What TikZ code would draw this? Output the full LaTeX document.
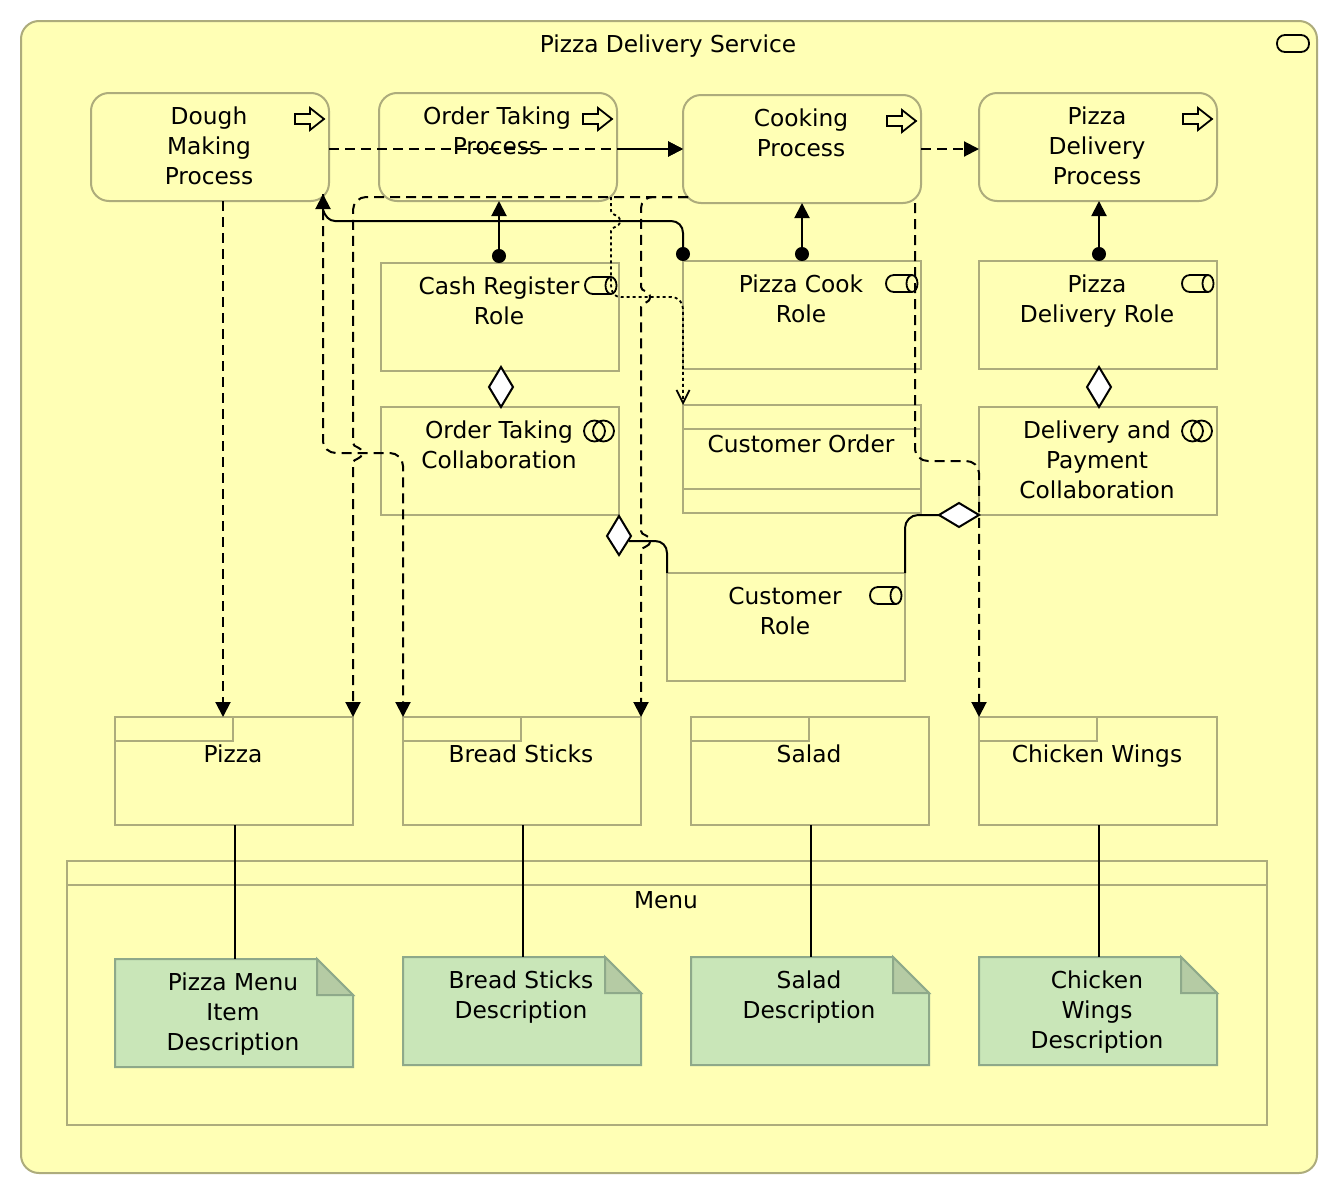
\documentclass[tikz,border=0pt]{standalone}
\usepackage{fontspec}
\setmainfont{DejaVu Sans}
\usetikzlibrary{arrows.meta,calc}
\definecolor{ylw}{HTML}{FFFFB5}
\definecolor{edge}{HTML}{ADAC7C}
\definecolor{grn}{HTML}{C9E6B8}
\definecolor{grnedge}{HTML}{8EA98A}
\definecolor{fold}{HTML}{B5CBA4}
\tikzset{
  elem/.style={inner sep=0pt,outer sep=0pt,anchor=north west,line width=2pt},
  boxed/.style={elem,draw=edge,fill=ylw},
  roundbox/.style={boxed,rounded corners=18pt},
  notebox/.style={elem},
  conn/.style={line width=2pt,black},
  dashline/.style={conn,dash pattern=on 10pt off 6pt},
  dotline/.style={conn,line width=1.8pt,dash pattern=on 3pt off 3pt},
  solidtip/.style={-{Triangle[length=15pt,width=15pt]}},
  dottip/.style={{Circle[length=14pt,width=14pt]}-{Triangle[length=15pt,width=15pt]}},
  opentip/.style={-{Straight Barb[length=13pt,width=13pt,line width=1.8pt]}},
  icon/.style={line width=1.8pt,black},
  dia/.style={line width=2pt,black,fill=white,line join=miter},
}
% \elm{name}{style}{x0}{y0}{x1}{y1}{first baseline offset}{text}
\newcommand\elm[8]{%
  \pgfmathsetlengthmacro\elmw{#5-#3}\pgfmathsetlengthmacro\elmh{#6-#4}%
  \node[#2] (#1) at (#3,#4) {\parbox[c][\elmh][t]{\elmw}{\centering\rightskip=2pt plus 1fil\fontsize{23.3}{30}\selectfont\rule{0pt}{#7pt}#8}};}
\newcommand\noteelm[8]{%
  \pgfmathsetmacro\xa{#3}\pgfmathsetmacro\ya{#4}\pgfmathsetmacro\xb{#5}\pgfmathsetmacro\yb{#6}%
  \draw[line width=2pt,draw=grnedge,fill=grn] (\xa,\ya) -- (\xb-36,\ya) -- (\xb,\ya+36) -- (\xb,\yb) -- (\xa,\yb) -- cycle;
  \draw[line width=2pt,draw=grnedge,fill=fold] (\xb-36,\ya) -- (\xb-36,\ya+36) -- (\xb,\ya+36) -- cycle;
  \elm{#1}{#2}{#3}{#4}{#5}{#6}{#7}{#8}}
\newcommand\procicon[2]{\draw[icon,shift={(#1,#2)}] (0,-5) -- (15,-5) -- (15,-11) -- (29,0) -- (15,11) -- (15,5) -- (0,5) -- cycle;}
\newcommand\roleicon[2]{\draw[icon,shift={(#1,#2)}] (26,0) -- (8,0) .. controls (3,0) and (0,4) .. (0,8.5) .. controls (0,13) and (3,17) .. (8,17) -- (26,17) (26,8.5) ellipse [x radius=5.5pt,y radius=8.5pt];}
\newcommand\collabicon[2]{\draw[icon] (#1+10.5,#2) circle [radius=10.5pt] (#1+19.5,#2) circle [radius=10.5pt];}
\newcommand\tabline[1]{\draw[line width=2pt,draw=edge] ([yshift=-24pt]#1.north west) -| ([xshift=118pt]#1.north west);}
\newcommand\hop[2]{-- (#1,#2-10) .. controls (#1,#2-5) and (#1+9,#2-7) .. (#1+9,#2) .. controls (#1+9,#2+7) and (#1,#2+5) .. (#1,#2+10)}
\begin{document}
\begin{tikzpicture}[x=1pt,y=-1pt]
\useasboundingbox (0,0) rectangle (1338,1194);
\fill[white] (0,0) rectangle (1338,1194);
\elm{service}{roundbox}{21}{21}{1317}{1173}{31}{Pizza Delivery Service}
\draw[icon,rounded corners=8pt] (1277,35) rectangle (1309,52);
% processes
\elm{dough}{roundbox}{91}{93}{329}{201}{31}{Dough\\Making\\Process}
\elm{order}{roundbox}{379}{93}{617}{201}{31}{Order Taking\\Process}
\elm{cook}{roundbox}{683}{95}{921}{203}{31}{Cooking\\Process}
\elm{deliver}{roundbox}{979}{93}{1217}{201}{31}{Pizza\\Delivery\\Process}
\procicon{295}{119}\procicon{583}{119}\procicon{887}{121}\procicon{1183}{119}
% roles
\elm{cash}{boxed}{381}{263}{619}{371}{31}{Cash Register\\Role}
\elm{cookrole}{boxed}{683}{261}{921}{369}{31}{Pizza Cook\\Role}
\elm{delrole}{boxed}{979}{261}{1217}{369}{31}{Pizza\\Delivery Role}
\elm{custrole}{boxed}{667}{573}{905}{681}{31}{Customer\\Role}
\roleicon{585}{277}\roleicon{886}{275}\roleicon{1182}{275}\roleicon{870}{587}
% collaborations
\elm{ordcol}{boxed}{381}{407}{619}{515}{31}{Order Taking\\Collaboration}
\elm{delcol}{boxed}{979}{407}{1217}{515}{31}{Delivery and\\Payment\\Collaboration}
\collabicon{584}{431}\collabicon{1182}{431}
% business object
\elm{custorder}{boxed}{683}{405}{921}{513}{47}{Customer Order}
\draw[line width=2pt,draw=edge] ([yshift=-24pt]custorder.north west) -- ([yshift=-24pt]custorder.north east);
\draw[line width=2pt,draw=edge] ([yshift=24pt]custorder.south west) -- ([yshift=24pt]custorder.south east);
% products
\elm{pizza}{boxed}{115}{717}{353}{825}{45}{Pizza}
\elm{bread}{boxed}{403}{717}{641}{825}{45}{Bread Sticks}
\elm{salad}{boxed}{691}{717}{929}{825}{45}{Salad}
\elm{wings}{boxed}{979}{717}{1217}{825}{45}{Chicken Wings}
\tabline{pizza}\tabline{bread}\tabline{salad}\tabline{wings}
% menu
\elm{menu}{boxed}{67}{861}{1267}{1125}{47}{Menu}
\draw[line width=2pt,draw=edge] ([yshift=-24pt]menu.north west) -- ([yshift=-24pt]menu.north east);
% notes
\noteelm{pizzanote}{notebox}{115}{959}{353}{1067}{31}{Pizza Menu\\Item\\Description}
\noteelm{breadnote}{notebox}{403}{957}{641}{1065}{31}{Bread Sticks\\Description}
\noteelm{saladnote}{notebox}{691}{957}{929}{1065}{31}{Salad\\Description}
\noteelm{wingsnote}{notebox}{979}{957}{1217}{1065}{31}{Chicken\\Wings\\Description}
% product to note
\draw[conn] ([xshift=1pt]pizza.south) -- ([xshift=1pt]pizza.south |- pizzanote.north);
\draw[conn] ([xshift=1pt]bread.south) -- ([xshift=1pt]bread.south |- breadnote.north);
\draw[conn] ([xshift=1pt]salad.south) -- ([xshift=1pt]salad.south |- saladnote.north);
\draw[conn] ([xshift=1pt]wings.south) -- ([xshift=1pt]wings.south |- wingsnote.north);
% process flow
\draw[dashline,solidtip] ([yshift=-2pt]dough.east) -- (cook.west);
\draw[conn,solidtip] ([yshift=-2pt]order.east) -- (cook.west);
\draw[dashline,solidtip] (cook.east) -- ([yshift=-2pt]deliver.west);
% assignments
\draw[conn,dottip] ([xshift=-1pt]cash.north) -- ([xshift=1pt]order.south);
\draw[conn,dottip] (cookrole.north) -- (cook.south);
\draw[conn,dottip] ([xshift=1pt]delrole.north) -- ([xshift=1pt]deliver.south);
\draw[conn,dottip] (cookrole.north west) -- (683,233) .. controls (683,226) and (678,221) .. (671,221) -- (335,221) .. controls (329,221) and (325,216) .. (323,210) -- ([xshift=-6pt,yshift=7pt]dough.south east);
% dashed data links
\draw[dashline,solidtip] ([xshift=13pt]dough.south) -- ([xshift=13pt]dough.south |- pizza.north);
\draw[dashline,solidtip] ([xshift=5pt,yshift=6pt]cook.south west) -- (366,197) .. controls (359,197) and (353,203) .. (353,210) \hop{353}{453} -- (pizza.north east);
\draw[dashline,solidtip] ([xshift=5pt,yshift=6pt]cook.south west) -- (653,197) .. controls (647,197) and (641,201) .. (641,208) \hop{641}{297} \hop{641}{541} -- (bread.north east);
\draw[dashline,solidtip] ([xshift=-6pt,yshift=7pt]dough.south east) -- (323,440) .. controls (323,448) and (329,453) .. (336,453) -- (390,453) .. controls (397,453) and (403,459) .. (403,466) -- (bread.north west);
\draw[dashline,solidtip] ([xshift=-6pt]cook.south east) -- (915,448) .. controls (915,456) and (921,461) .. (928,461) -- (966,461) .. controls (973,461) and (979,466) .. (979,473) -- (wings.north west);
% access
\draw[dotline,opentip] ([xshift=-6pt,yshift=4pt]order.south east) \hop{611}{221} -- (611,285) .. controls (611,292) and (614,297) .. (621,297) -- (671,297) .. controls (678,297) and (683,302) .. (683,309) -- (custorder.north west);
% composition lines
\draw[conn] (629,541) -- (655,541) .. controls (662,541) and (667,546) .. (667,553) -- (custrole.north west);
\draw[conn] (custrole.north east) -- (905,528) .. controls (905,521) and (911,515) .. (918,515) -- (940,515);
% diamonds
\draw[dia] (501,367) -- (513,387) -- (501,407) -- (489,387) -- cycle;
\draw[dia] (1099,367) -- (1111,387) -- (1099,407) -- (1087,387) -- cycle;
\draw[dia] (619,516) -- (631,536) -- (619,555) -- (607,536) -- cycle;
\draw[dia] (939,515) -- (959,503) -- (979,515) -- (959,527) -- cycle;
\end{tikzpicture}
\end{document}
